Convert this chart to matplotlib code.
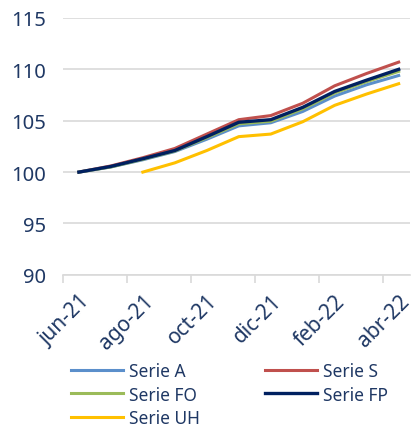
import numpy as np
import matplotlib.pyplot as plt

plt.rcParams['font.family'] = ['Noto Sans', 'DejaVu Sans']

# meses (jun-21 .. abr-22)
meses = ["jun-21", "jul-21", "ago-21", "sep-21", "oct-21", "nov-21",
         "dic-21", "ene-22", "feb-22", "mar-22", "abr-22"]

serie_a = [100, 100.5, 101.2, 102.0, 103.2, 104.5, 104.8, 105.9, 107.4, 108.5, 109.4]
serie_s = [100, 100.6, 101.4, 102.3, 103.7, 105.1, 105.5, 106.7, 108.4, 109.6, 110.7]
serie_fo = [100, 100.5, 101.25, 102.05, 103.35, 104.7, 104.95, 106.15, 107.7, 108.8, 109.8]
serie_fp = [100, 100.55, 101.3, 102.1, 103.45, 104.85, 105.1, 106.3, 107.85, 108.95, 110.0]
serie_uh = [np.nan, np.nan, 100, 100.9, 102.1, 103.45, 103.7, 104.9, 106.5, 107.6, 108.6]

azul = "#1F3864"
x = np.arange(len(meses))

fig = plt.figure(figsize=(4.14, 4.31), dpi=100)
ax = fig.add_axes([0.152, 0.36, 0.838, 0.596])

# orden de dibujo: FP encima
l_a, = ax.plot(x, serie_a, color="#5B8FCB", lw=2.2, label="Serie A")
l_s, = ax.plot(x, serie_s, color="#C0504D", lw=2.2, label="Serie S")
l_fo, = ax.plot(x, serie_fo, color="#9BBB59", lw=2.2, label="Serie FO")
l_uh, = ax.plot(x, serie_uh, color="#FFC000", lw=2.2, label="Serie UH")
l_fp, = ax.plot(x, serie_fp, color="#002060", lw=2.4, label="Serie FP")

ax.set_ylim(90, 115)
ax.set_yticks(np.arange(90, 116, 5))
ax.set_xlim(-0.5, 10.35)
ax.yaxis.grid(True, color="#D9D9D9", lw=1.2)
ax.set_axisbelow(True)

ax.set_xticks(x[::2])
ax.set_xticklabels(meses[::2], rotation=45, ha="right", rotation_mode="anchor")
ax.set_xticks(np.arange(-0.5, 10.5, 2), minor=True)
ax.tick_params(axis="x", which="major", length=0, pad=11, labelsize=15, labelcolor=azul)
ax.tick_params(axis="x", which="minor", length=6, color="#D9D9D9", width=1.2)
ax.tick_params(axis="y", length=0, pad=12, labelsize=14.5, labelcolor=azul)

for s in ["top", "right", "left"]:
    ax.spines[s].set_visible(False)
ax.spines["bottom"].set_color("#D9D9D9")
ax.spines["bottom"].set_linewidth(1.2)

handles = [l_a, l_fo, l_uh, l_s, l_fp]
leg = fig.legend(handles=handles, labels=[h.get_label() for h in handles],
                 ncol=2, loc="lower left", bbox_to_anchor=(0.133, -0.03),
                 frameon=False, fontsize=12.5, handlelength=3.0,
                 columnspacing=3.75, labelspacing=0.33, handletextpad=0.35)
for t in leg.get_texts():
    t.set_color(azul)

fig.savefig("out.png", dpi=100)
